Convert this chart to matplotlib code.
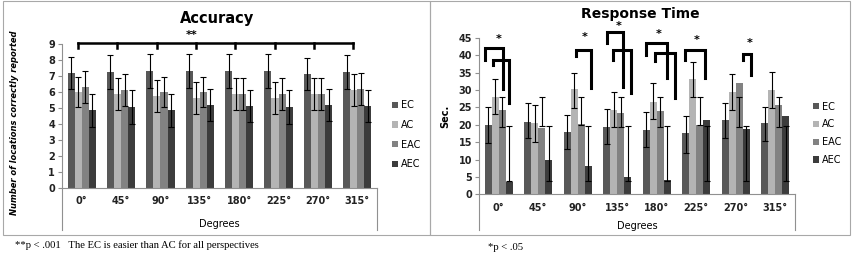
import matplotlib.pyplot as plt
import numpy as np
from matplotlib.patches import Rectangle

# Categories and series
degrees = ["0°", "45°", "90°", "135°", "180°", "225°", "270°", "315°"]
series = ["EC", "AC", "EAC", "AEC"]

# Accuracy (number of locations correctly reported)
acc_ec = [7.2, 7.25, 7.3, 7.3, 7.3, 7.3, 7.1, 7.25]
acc_ac = [6.0, 5.85, 5.75, 5.65, 5.85, 5.65, 5.9, 6.1]
acc_eac = [6.3, 6.15, 6.0, 6.0, 5.85, 5.9, 5.85, 6.2]
acc_aec = [4.85, 5.05, 4.85, 5.2, 5.1, 5.05, 5.2, 5.15]
acc_ec_err = [1.0, 1.05, 1.05, 1.05, 1.05, 1.05, 1.0, 1.05]
acc_ac_err = [0.95, 1.0, 1.0, 1.0, 1.0, 1.0, 1.0, 1.0]
acc_eac_err = [1.0, 1.0, 0.95, 0.95, 1.0, 1.0, 1.0, 1.0]
acc_aec_err = [1.05, 1.05, 1.05, 1.0, 1.0, 1.05, 1.0, 1.0]

# Response time (sec.) with error bar bounds
rt_ec = [19.9, 20.9, 17.9, 19.2, 18.5, 17.5, 21.3, 20.4]
rt_ac = [27.9, 20.5, 30.3, 24.2, 26.6, 33.0, 29.3, 30.1]
rt_eac = [24.3, 19.0, 20.2, 23.4, 24.0, 19.9, 32.0, 25.7]
rt_aec = [3.65, 9.8, 8.0, 5.1, 4.0, 21.3, 18.75, 22.6]
rt_ec_low = [14.7, 16.1, 13.0, 14.4, 13.5, 12.0, 16.3, 15.4]
rt_ec_high = [25.0, 26.2, 22.9, 24.5, 23.6, 22.4, 26.2, 25.2]
rt_ac_low = [23.0, 15.1, 24.7, 19.2, 21.6, 28.0, 24.3, 24.8]
rt_ac_high = [33.2, 25.7, 34.9, 29.3, 31.9, 38.0, 34.6, 35.1]
rt_eac_low = [19.4, 19.5, 20.0, 19.4, 19.4, 19.8, 19.4, 19.4]
rt_eac_high = [27.9, 27.9, 27.9, 27.9, 27.9, 27.9, 27.9, 27.9]
rt_aec_low = [3.8, 3.8, 3.8, 3.8, 3.8, 3.8, 3.8, 3.8]
rt_aec_high = [19.6, 19.6, 19.6, 19.6, 19.6, 19.6, 19.6, 19.6]

# significance brackets on response time (group, left/right offset, heights)
br_group = [0, 0, 2, 3, 3, 4, 4, 5, 6]
br_left = [-0.36, -0.15, -0.05, -0.26, -0.11, -0.26, -0.05, -0.28, 0.18]
br_right = [0.11, 0.26, 0.34, 0.15, 0.35, 0.27, 0.47, 0.23, 0.39]
br_top = [42.0, 38.6, 41.5, 46.7, 41.5, 43.6, 40.5, 41.5, 40.3]
br_lbottom = [38.6, 37.2, 39.6, 43.4, 38.6, 40.0, 38.3, 38.6, 38.6]
br_rbottom = [30.2, 26.1, 30.5, 30.7, 29.2, 33.3, 27.6, 33.3, 34.3]
star_group = [0, 2, 3, 4, 5, 6]
star_off = [0.0, 0.18, 0.04, 0.05, 0.01, 0.35]
star_y = [44.5, 45.1, 48.4, 46.0, 44.3, 43.6]

colors = ["#585858", "#b4b4b4", "#828282", "#3c3c3c"]
W = 0.18
x = np.arange(len(degrees))

fig = plt.figure(figsize=(8.56, 2.57), dpi=100)

# panel frames
for x0, x1 in [(3, 430), (430, 850)]:
    fig.patches.append(Rectangle((x0 / 856, 1 - 235 / 257), (x1 - x0) / 856, 234 / 257,
                                 transform=fig.transFigure, fill=False,
                                 edgecolor="#a8a8a8", lw=0.8))


def style_axes(ax, ymax, step, depth):
    ax.set_xlim(-0.5, len(degrees) - 0.5)
    ax.set_ylim(0, ymax)
    ax.set_yticks(np.arange(0, ymax + 0.1, step))
    ax.set_xticks(x)
    ax.set_xticklabels(degrees)
    for s in ["top", "right"]:
        ax.spines[s].set_visible(False)
    for s in ["left", "bottom"]:
        ax.spines[s].set_color("#909090")
        ax.spines[s].set_linewidth(0.8)
    ax.tick_params(axis="y", length=3, color="#909090", labelsize=7, pad=2)
    ax.tick_params(axis="x", length=0, labelsize=7, pad=6)
    for t in ax.get_yticklabels() + ax.get_xticklabels():
        t.set_fontweight("bold")
        t.set_color("#222222")
    # box lines under the category axis
    ax.plot([-0.5, -0.5], [0, -depth * ymax], color="#909090", lw=0.8, clip_on=False)
    ax.plot([len(degrees) - 0.5] * 2, [0, -depth * ymax], color="#909090", lw=0.8, clip_on=False)


# ---------------- Accuracy ----------------
ax1 = fig.add_axes([62 / 856, 1 - 188 / 257, 315 / 856, 144 / 257])
acc_vals = [acc_ec, acc_ac, acc_eac, acc_aec]
acc_errs = [acc_ec_err, acc_ac_err, acc_eac_err, acc_aec_err]
for i, (v, e) in enumerate(zip(acc_vals, acc_errs)):
    xi = x + (i - 1.5) * W
    ax1.bar(xi, v, W, color=colors[i], label=series[i])
    ax1.errorbar(xi, v, yerr=e, fmt="none", ecolor="black", elinewidth=0.8,
                 capsize=2, capthick=0.8)
style_axes(ax1, 9, 1, 0.29)
ax1.set_xlabel("Degrees", fontsize=7, labelpad=9)
ax1.set_ylabel("Number of locations correctly reported", fontsize=6,
               fontweight="bold", fontstyle="italic", labelpad=20)
ax1.yaxis.set_label_coords(-0.135, 0.45)
# overall bracket
bx = x - 0.1
ax1.plot([bx[0], bx[-1]], [9.08, 9.08], color="black", lw=1.8, clip_on=False)
for b in bx:
    ax1.plot([b, b], [9.08, 8.73], color="black", lw=1.8, clip_on=False)
ax1.text(2.8, 9.55, "**", ha="center", va="center", fontsize=8, fontweight="bold")
ax1.legend(loc="center left", bbox_to_anchor=(1.02, 0.37), frameon=False,
           fontsize=7, handlelength=0.6, handleheight=0.6, handletextpad=0.3,
           labelspacing=1.0)

# ---------------- Response time ----------------
ax2 = fig.add_axes([479 / 856, 1 - 194.3 / 257, 316 / 856, 156.6 / 257])
rt_vals = [rt_ec, rt_ac, rt_eac, rt_aec]
rt_lows = [rt_ec_low, rt_ac_low, rt_eac_low, rt_aec_low]
rt_highs = [rt_ec_high, rt_ac_high, rt_eac_high, rt_aec_high]
for i, (v, lo, hi) in enumerate(zip(rt_vals, rt_lows, rt_highs)):
    xi = x + (i - 1.5) * W
    ax2.bar(xi, v, W, color=colors[i], label=series[i])
    lo = np.array(lo)
    hi = np.array(hi)
    ax2.errorbar(xi, (lo + hi) / 2, yerr=(hi - lo) / 2, fmt="none", ecolor="black",
                 elinewidth=0.8, capsize=2, capthick=0.8)
style_axes(ax2, 45, 5, 0.228)
ax2.set_xlabel("Degrees", fontsize=7, labelpad=6)
ax2.set_ylabel("Sec.", fontsize=7, fontweight="bold", labelpad=6)
for g, l, r, t, lb, rb in zip(br_group, br_left, br_right, br_top, br_lbottom, br_rbottom):
    ax2.plot([g + l, g + l, g + r, g + r], [lb, t, t, rb], color="black", lw=2.2,
             clip_on=False, solid_joinstyle="miter")
for g, o, sy in zip(star_group, star_off, star_y):
    ax2.text(g + o, sy, "*", ha="center", va="center", fontsize=8, fontweight="bold",
             clip_on=False)
ax2.legend(loc="center left", bbox_to_anchor=(1.03, 0.39), frameon=False,
           fontsize=7, handlelength=0.6, handleheight=0.6, handletextpad=0.3,
           labelspacing=0.8)

# titles and footnotes
fig.text(217 / 856, 1 - 19 / 257, "Accuracy", ha="center", va="center",
         fontsize=10.5, fontweight="bold")
fig.text(640 / 856, 1 - 14 / 257, "Response Time", ha="center", va="center",
         fontsize=10, fontweight="bold")
fig.text(15 / 856, 1 - 245 / 257, "**p < .001   The EC is easier than AC for all perspectives",
         ha="left", va="center", fontsize=7.7, family="Liberation Serif")
fig.text(488 / 856, 1 - 247 / 257, "*p < .05", ha="left", va="center",
         fontsize=7.7, family="Liberation Serif")

fig.savefig("out.png", dpi=100)
